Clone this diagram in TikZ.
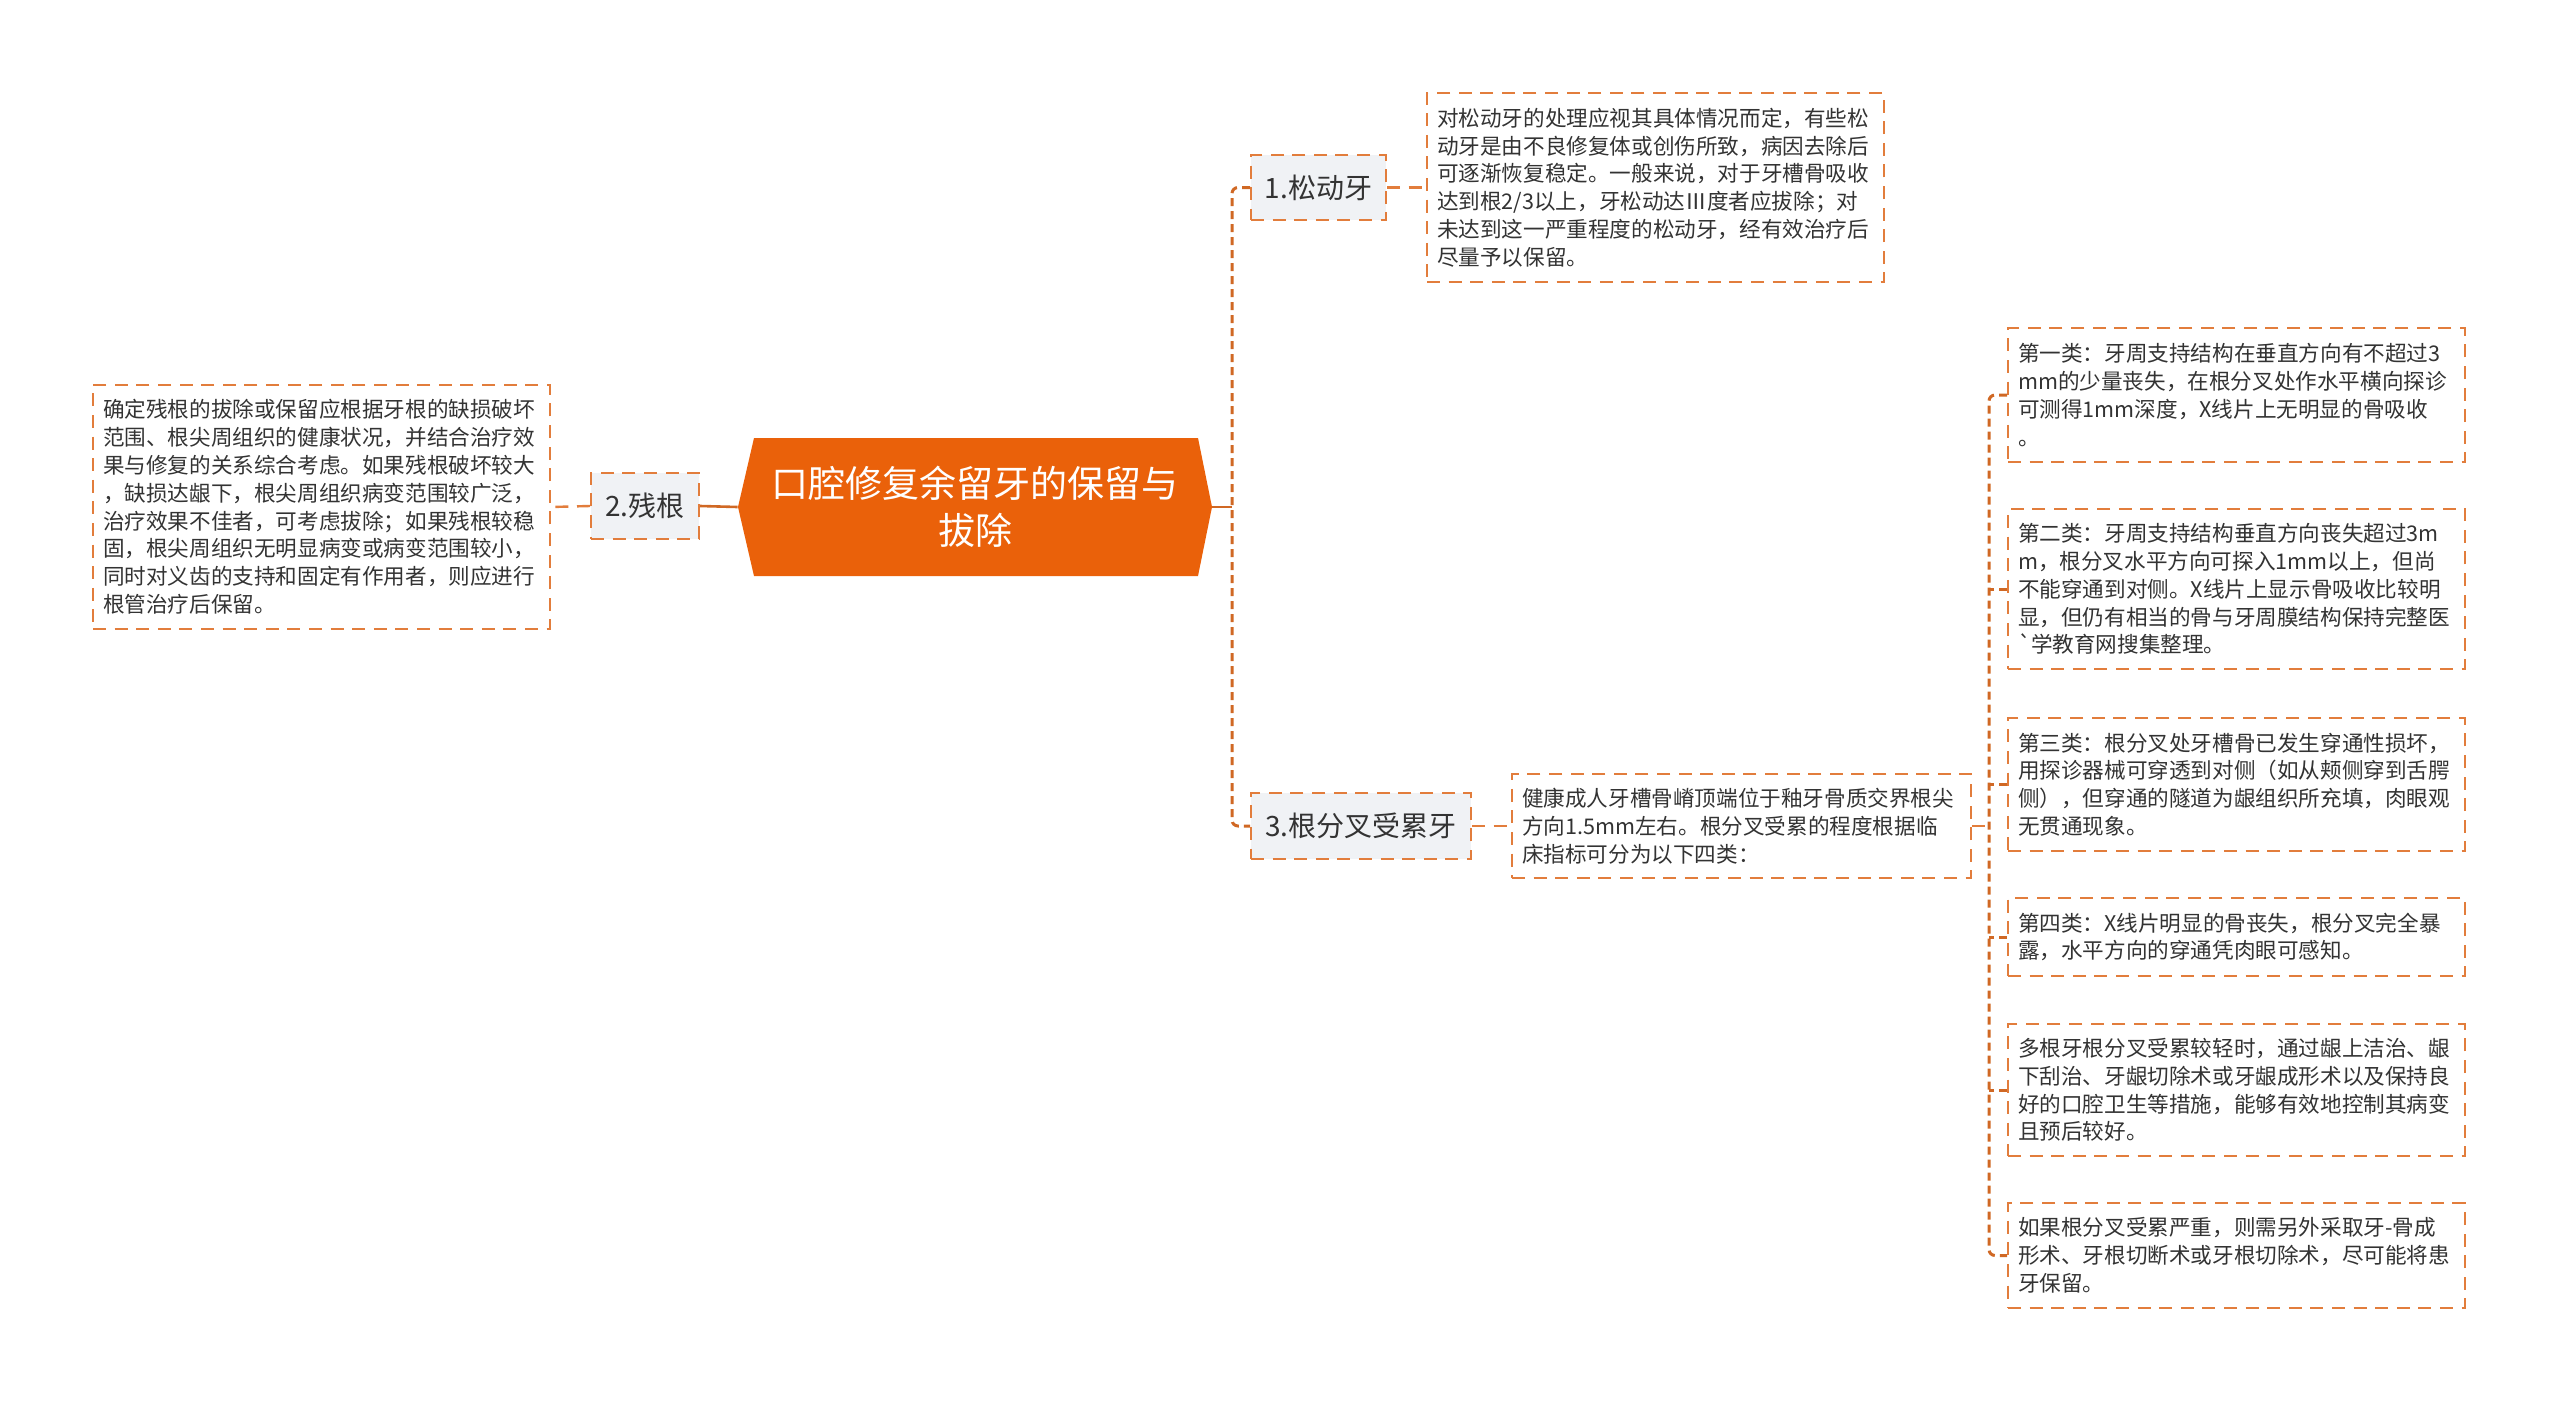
\documentclass[tikz,border=0pt]{standalone}
\usepackage{fontspec}
\setmainfont{Noto Sans CJK SC}
\usetikzlibrary{calc}
\definecolor{bord}{RGB}{226,125,60}
\definecolor{trunkc}{RGB}{208,104,36}
\definecolor{rootc}{RGB}{234,97,10}
\definecolor{childfill}{RGB}{240,242,245}
\definecolor{txt}{RGB}{51,51,51}
\tikzset{
  textbox/.style={draw=bord, line width=1pt, dash pattern=on 6.5pt off 4.3pt, fill=white,
    align=left, inner xsep=5pt, inner ysep=0pt, text=txt,
    font=\fontsize{10.8}{13.9}\selectfont},
  childbox/.style={draw=bord, line width=1pt, dash pattern=on 6.5pt off 4.3pt, fill=childfill,
    inner sep=0pt, text=txt, font=\fontsize{14}{17}\selectfont},
  link/.style={draw=bord, line width=1.2pt, dash pattern=on 6.5pt off 4.3pt},
  trunk/.style={draw=trunkc, line width=1.5pt, dash pattern=on 4pt off 2.5pt, rounded corners=3pt},
  solidlink/.style={draw=trunkc, line width=1.3pt}
}
\begin{document}
\begin{tikzpicture}[x=0.5pt,y=-0.5pt]
\useasboundingbox (0,0) rectangle (2560,1403);
% root shape
\fill[rootc] (738,507) -- (754,438) -- (1198,438) -- (1212,507) -- (1198,576) -- (754,576) -- cycle;
\node[minimum width=237pt, minimum height=69pt, inner sep=0pt, align=center, text=white,
  font=\fontsize{18.5}{23.7}\selectfont] (root) at (975,507) {口腔修复余留牙的保留与\\拔除};

% left branch
\node[childbox, minimum width=54pt, minimum height=33pt] (n2) at (645,506) {2.残根};
\node[textbox, text width=218.5pt, minimum height=122pt] (t2) at (321.5,507) {确定残根的拔除或保留应根据牙根的缺损破坏\\范围、根尖周组织的健康状况，并结合治疗效\\果与修复的关系综合考虑。如果残根破坏较大\\，缺损达龈下，根尖周组织病变范围较广泛，\\治疗效果不佳者，可考虑拔除；如果残根较稳\\固，根尖周组织无明显病变或病变范围较小，\\同时对义齿的支持和固定有作用者，则应进行\\根管治疗后保留。};

% right branches
\node[childbox, minimum width=67.5pt, minimum height=32.5pt] (n1) at (1318.5,187.5) {1.松动牙};
\node[textbox, text width=218.5pt, minimum height=94.5pt] (t1) at (1655.5,187.5) {对松动牙的处理应视其具体情况而定，有些松\\动牙是由不良修复体或创伤所致，病因去除后\\可逐渐恢复稳定。一般来说，对于牙槽骨吸收\\达到根2/3以上，牙松动达Ⅲ度者应拔除；对\\未达到这一严重程度的松动牙，经有效治疗后\\尽量予以保留。};

\node[childbox, minimum width=110pt, minimum height=33pt] (n3) at (1361,826) {3.根分叉受累牙};
\node[textbox, text width=219.5pt, minimum height=52pt] (t3) at (1741.5,826) {健康成人牙槽骨嵴顶端位于釉牙骨质交界根尖\\方向1.5mm左右。根分叉受累的程度根据临\\床指标可分为以下四类：};

\node[textbox, text width=218.5pt, minimum height=67pt] (A) at (2236.5,395) {第一类：牙周支持结构在垂直方向有不超过3\\mm的少量丧失，在根分叉处作水平横向探诊\\可测得1mm深度，X线片上无明显的骨吸收\\。};
\node[textbox, text width=218.5pt, minimum height=80pt] (B) at (2236.5,589) {第二类：牙周支持结构垂直方向丧失超过3m\\m，根分叉水平方向可探入1mm以上，但尚\\不能穿通到对侧。X线片上显示骨吸收比较明\\显，但仍有相当的骨与牙周膜结构保持完整医\\\textasciigrave 学教育网搜集整理。};
\node[textbox, text width=218.5pt, minimum height=66.5pt] (C) at (2236.5,784.5) {第三类：根分叉处牙槽骨已发生穿通性损坏，\\用探诊器械可穿透到对侧（如从颊侧穿到舌腭\\侧），但穿通的隧道为龈组织所充填，肉眼观\\无贯通现象。};
\node[textbox, text width=218.5pt, minimum height=39pt] (D) at (2236.5,937) {第四类：X线片明显的骨丧失，根分叉完全暴\\露，水平方向的穿通凭肉眼可感知。};
\node[textbox, text width=218.5pt, minimum height=66pt] (E) at (2236.5,1090) {多根牙根分叉受累较轻时，通过龈上洁治、龈\\下刮治、牙龈切除术或牙龈成形术以及保持良\\好的口腔卫生等措施，能够有效地控制其病变\\且预后较好。};
\node[textbox, text width=218.5pt, minimum height=52.5pt] (F) at (2236.5,1255.5) {如果根分叉受累严重，则需另外采取牙-骨成\\形术、牙根切断术或牙根切除术，尽可能将患\\牙保留。};

% connectors
\coordinate (ltr) at (1232,507);
\coordinate (rtr) at (1989,826);
\draw[solidlink] (root.east) -- (ltr);
\draw[trunk] (n1.west) -| (ltr) |- (n3.west);
\draw[solidlink] (root.west) -- (n2.east);
\draw[link] (n2.west) -- (t2.east);
\draw[link] (n1.east) -- (t1.west);
\draw[link] (n3.east) -- (t3.west);
\draw[link] (t3.east) -- (rtr);
\draw[trunk] (A.west) -| (rtr) |- (F.west);
\draw[trunk] (B.west) -- (B.west -| rtr);
\draw[trunk] (C.west) -- (C.west -| rtr);
\draw[trunk] (D.west) -- (D.west -| rtr);
\draw[trunk] (E.west) -- (E.west -| rtr);
\end{tikzpicture}
\end{document}
